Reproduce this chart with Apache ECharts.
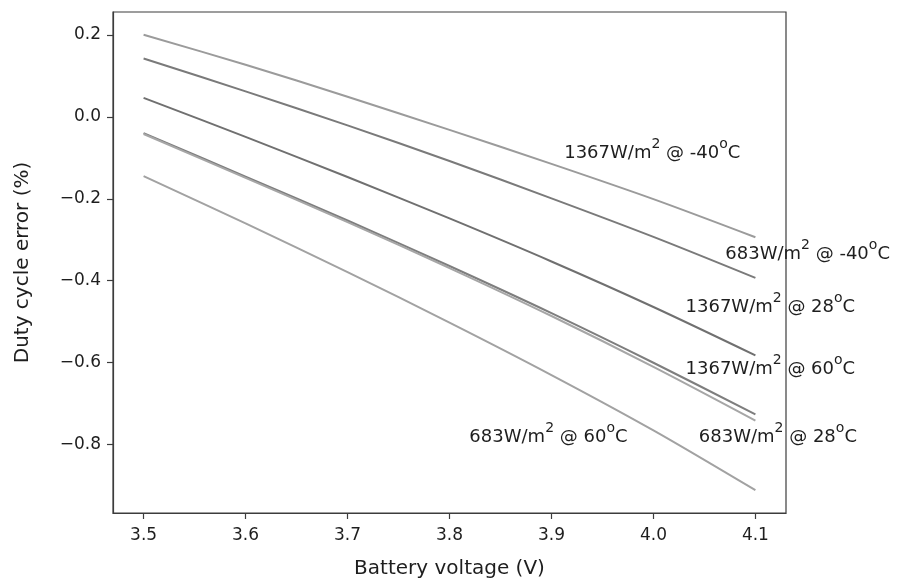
<!DOCTYPE html>
<html><head><meta charset="utf-8">
<script src="https://cdn.jsdelivr.net/npm/echarts@6/dist/echarts.min.js"></script>
<style>html,body{margin:0;padding:0;background:#fff}#c{width:904px;height:581px}</style>
</head><body><div id="c"></div>
<script>
const voltages = [3.5, 3.6, 3.7, 3.8, 3.9, 4.0, 4.1];
const s1367m40 = [0.200, 0.127, 0.049, -0.032, -0.115, -0.201, -0.294];
const s683m40  = [0.142, 0.062, -0.021, -0.108, -0.199, -0.293, -0.393];
const s1367p28 = [0.046, -0.049, -0.147, -0.248, -0.353, -0.464, -0.582];
const s1367p60 = [-0.040, -0.146, -0.253, -0.364, -0.479, -0.600, -0.726];
const s683p28  = [-0.042, -0.149, -0.257, -0.369, -0.486, -0.610, -0.741];
const s683p60  = [-0.145, -0.260, -0.379, -0.502, -0.630, -0.765, -0.911];
const xTicks = [3.5, 3.6, 3.7, 3.8, 3.9, 4.0, 4.1];
const yTicks = [0.2, 0.0, -0.2, -0.4, -0.6, -0.8];
const labelIrr  = ['1367', '683', '1367', '1367', '683', '683'];
const labelTemp = ['-40', '-40', '28', '60', '28', '60'];
const labelX = [3.912, 4.070, 4.031, 4.031, 4.044, 3.819];
const labelY = [-0.090, -0.336, -0.465, -0.617, -0.782, -0.782];

const seriesList = [s1367m40, s683m40, s1367p28, s1367p60, s683p28, s683p60];
const colors = ['#9b9b9b', '#7a7a7a', '#707070', '#7e7e7e', '#a6a6a6', '#a2a2a2'];
const FONT = 'DejaVu Sans';
const TXT = '#1e1e1e';

const allY = [].concat(...seriesList);
const yMaxD = Math.max(...allY), yMinD = Math.min(...allY);
const xPad = 0.05 * (voltages[voltages.length-1] - voltages[0]);
const yPad = 0.05 * (yMaxD - yMinD);

const chart = echarts.init(document.getElementById('c'), null, {renderer: 'canvas'});
const lines = seriesList.map((s, i) => ({
  type: 'line', data: voltages.map((v, j) => [v, s[j]]),
  showSymbol: false, symbol: 'none', smooth: 0.3,
  lineStyle: {color: colors[i], width: 2}, z: 2
}));
const labels = {
  type: 'scatter', symbolSize: 1, itemStyle: {color: 'rgba(0,0,0,0)', opacity: 1}, silent: true,
  data: labelX.map((x, i) => ({value: [x, labelY[i]], irr: labelIrr[i], temp: labelTemp[i]})),
  label: {
    show: true, position: 'right', distance: 0, opacity: 1,
    fontFamily: FONT, fontSize: 18, color: TXT,
    formatter: p => `{a|${p.data.irr}W/m}{s|2}{a| @ ${p.data.temp}}{s|o}{a|C}`,
    rich: {
      a: {fontFamily: FONT, fontSize: 18, color: TXT},
      s: {fontFamily: FONT, fontSize: 14, color: TXT, lineHeight: 14, padding: [0, 0, 18, 0]}
    }
  },
  z: 5
};
chart.setOption({
  animation: false,
  backgroundColor: '#fff',
  grid: {left: 113, right: 118, top: 12, bottom: 68, outerBoundsMode: 'none', containLabel: false,
         show: true, borderColor: '#3c3c3c', borderWidth: 1.2, backgroundColor: 'transparent'},
  xAxis: {
    type: 'value', min: voltages[0] - xPad, max: voltages[voltages.length-1] + xPad,
    name: 'Battery voltage (V)', nameLocation: 'middle', nameGap: 46,
    nameTextStyle: {fontFamily: FONT, fontSize: 20, color: TXT},
    axisLine: {show: true, onZero: false, lineStyle: {color: '#3c3c3c', width: 1.2}},
    axisTick: {show: true, length: 6, lineStyle: {color: '#3c3c3c', width: 1.2}, customValues: xTicks},
    axisLabel: {fontFamily: FONT, fontSize: 17, color: TXT, margin: 14, customValues: xTicks, formatter: v => v.toFixed(1)},
    splitLine: {show: false}
  },
  yAxis: {
    type: 'value', min: yMinD - yPad, max: yMaxD + yPad,
    name: 'Duty cycle error (%)', nameLocation: 'middle', nameGap: 80,
    nameTextStyle: {fontFamily: FONT, fontSize: 20, color: TXT},
    axisLine: {show: true, onZero: false, lineStyle: {color: '#3c3c3c', width: 1.2}},
    axisTick: {show: true, length: 6, lineStyle: {color: '#3c3c3c', width: 1.2}, customValues: yTicks},
    axisLabel: {fontFamily: FONT, fontSize: 17, color: TXT, margin: 12, customValues: yTicks, formatter: v => v.toFixed(1).replace('-', '\u2212')},
    splitLine: {show: false}
  },
  series: [...lines, labels]
});
</script></body></html>
